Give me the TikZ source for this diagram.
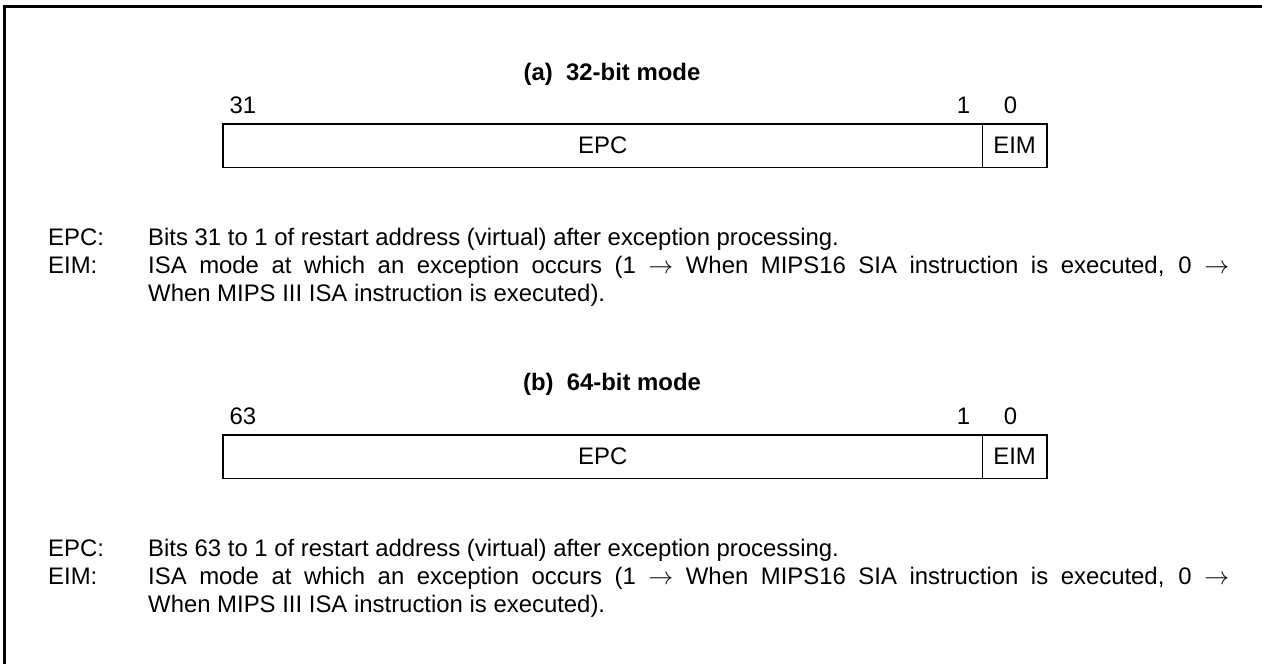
\documentclass[tikz,border=0pt]{standalone}
\usepackage{fontspec}
\setmainfont{Liberation Sans}
\usetikzlibrary{positioning}

\begin{document}
\begin{tikzpicture}[x=1pt,y=-1pt,
    every node/.style={inner sep=0pt,font=\fontsize{23.9}{28}\selectfont},
    field/.style={minimum height=43pt,anchor=north west},
    title/.style={font=\fontsize{23.9}{28}\selectfont\bfseries,anchor=base},
    bit/.style={anchor=base},
    key/.style={anchor=base west},
    desc/.style={anchor=base west,text width=1081pt,align=justify}]
    \useasboundingbox (0,0) rectangle (1262,664);
    % outer frame
    \draw[line width=3pt] (4,680) -- (4,6) -- (1280,6);
    % (a) 32-bit mode
    \node[title] (title_a) at (612,80) {(a)\ \ 32-bit mode};
    \node[field,minimum width=759pt] (epc_a) at (223,124) {EPC};
    \node[field,minimum width=64pt]  (eim_a) [right=0pt of epc_a] {EIM};
    \draw[line width=1.8pt] (epc_a.north west) rectangle (eim_a.south east);
    \draw[line width=0.8pt] (epc_a.north east) -- (epc_a.south east);
    \node[bit] (msb_a) at ([xshift=20pt,yshift=11pt]epc_a.north west) {31};
    \node[bit] (one_a) at ([xshift=-19pt,yshift=11pt]epc_a.north east) {1};
    \node[bit] (zero_a) at ([xshift=-4pt,yshift=11pt]eim_a.north) {0};
    \node[key] (epc_key_a) at (48,245) {EPC:};
    \node[key] (epc_txt_a) at (148,245) {Bits 31 to 1 of restart address (virtual) after exception processing.};
    \node[key] (eim_key_a) at (48,273) {EIM:};
    \node[desc] (eim_txt_a) at (148,273) {ISA mode at which an exception occurs (1 $\rightarrow$ When MIPS16 SIA instruction is executed, 0 $\rightarrow$\linebreak When MIPS III ISA instruction is executed).};
    % (b) 64-bit mode
    \node[title] (title_b) at (612,390) {(b)\ \ 64-bit mode};
    \node[field,minimum width=759pt] (epc_b) at (223,435) {EPC};
    \node[field,minimum width=64pt]  (eim_b) [right=0pt of epc_b] {EIM};
    \draw[line width=1.8pt] (epc_b.north west) rectangle (eim_b.south east);
    \draw[line width=0.8pt] (epc_b.north east) -- (epc_b.south east);
    \node[bit] (msb_b) at ([xshift=20pt,yshift=11pt]epc_b.north west) {63};
    \node[bit] (one_b) at ([xshift=-19pt,yshift=11pt]epc_b.north east) {1};
    \node[bit] (zero_b) at ([xshift=-4pt,yshift=11pt]eim_b.north) {0};
    \node[key] (epc_key_b) at (48,556) {EPC:};
    \node[key] (epc_txt_b) at (148,556) {Bits 63 to 1 of restart address (virtual) after exception processing.};
    \node[key] (eim_key_b) at (48,584) {EIM:};
    \node[desc] (eim_txt_b) at (148,584) {ISA mode at which an exception occurs (1 $\rightarrow$ When MIPS16 SIA instruction is executed, 0 $\rightarrow$\linebreak When MIPS III ISA instruction is executed).};
\end{tikzpicture}
\end{document}
